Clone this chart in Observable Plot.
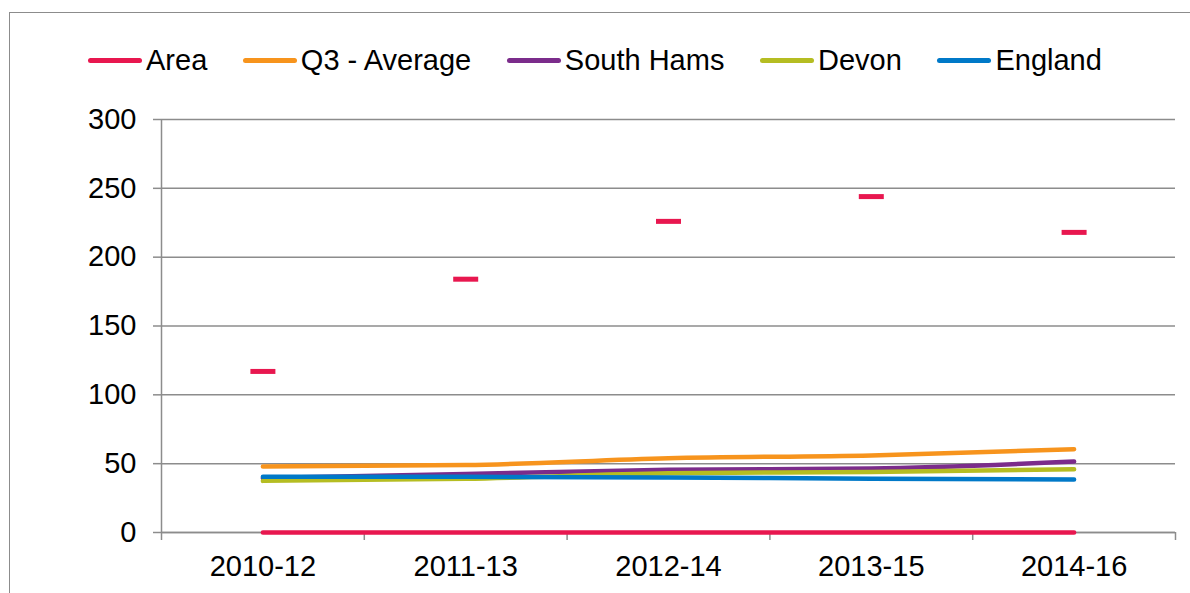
<!DOCTYPE html>
<html><head><meta charset="utf-8">
<script src="https://cdn.jsdelivr.net/npm/d3@7"></script>
<script src="https://cdn.jsdelivr.net/npm/@observablehq/plot@0.6"></script>
<style>
body{margin:0;background:#fff;width:1190px;height:593px;overflow:hidden;position:relative;font-family:"Liberation Sans",Arial,sans-serif;}
#frame{position:absolute;left:9px;top:12px;width:1200px;height:620px;border:1.5px solid #8c8c8c;box-sizing:border-box;}
#chart{position:absolute;left:0;top:0;}
#legend{position:absolute;left:88px;top:44px;display:flex;align-items:center;font-size:29px;color:#000;white-space:nowrap;}
#legend .item{display:flex;align-items:center;margin-right:35.6px;}
#legend .sw{width:54px;height:5px;border-radius:3px;margin-right:4px;}
</style></head>
<body>
<div id="frame"></div>
<div id="chart"></div>
<div id="legend"></div>
<script>
const categories = ["2010-12","2011-13","2012-14","2013-15","2014-16"];
const areaValues = [117, 184, 226, 244, 218];
const areaBaseline = [0, 0, 0, 0, 0];
const q3Average = [48, 49, 54, 56, 60.5];
const southHams = [39.5, 42.5, 45.5, 46.5, 51.5];
const devon = [37.5, 39, 43, 44, 46];
const england = [40.5, 40.5, 40, 39, 38.5];
const yTicks = [0, 50, 100, 150, 200, 250, 300];

const seriesNames = ["Area","Q3 - Average","South Hams","Devon","England"];
const seriesColors = ["#e8174f","#f7941d","#7b2c8b","#b5bd22","#0079c8"];
const lineSeries = [areaBaseline, q3Average, southHams, devon, england];

const toRows = (vals) => vals.map((v, i) => ({i, v}));
const boundaries = d3.range(categories.length + 1).map(k => k - 0.5);
const grid = "#8c8c8c";

const dash = {draw(ctx){ ctx.rect(-12.5, -2.5, 25, 5); }};

const marks = [
  Plot.gridY(yTicks, {stroke: grid, strokeOpacity: 1, strokeWidth: 1.5}),
  Plot.ruleY([0], {stroke: grid, strokeWidth: 1.5}),
  Plot.axisY(yTicks, {tickSize: 8, tickFormat: () => "", stroke: grid, strokeWidth: 1.5, label: null}),
  Plot.axisY(yTicks, {tickSize: 0, tickPadding: 25, fill: "#000", label: null}),
  Plot.axisX(boundaries, {tickSize: 8, tickFormat: () => "", stroke: grid, strokeWidth: 1.5, label: null}),
  Plot.axisX(d3.range(categories.length), {tickSize: 0, tickPadding: 23, tickFormat: i => categories[i], fill: "#000", label: null}),
  Plot.ruleX([-0.5], {stroke: grid, strokeWidth: 1.5})
];
lineSeries.forEach((vals, k) => {
  marks.push(Plot.line(toRows(vals), {x: "i", y: "v", stroke: seriesColors[k], strokeWidth: 4.5, strokeLinecap: "round", strokeLinejoin: "round", curve: "monotone-x"}));
});
marks.push(Plot.dot(toRows(areaValues), {x: "i", y: "v", symbol: dash, fill: seriesColors[0], stroke: null, r: 5}));

const chart = Plot.plot({
  width: 1190, height: 593,
  marginTop: 119, marginBottom: 61, marginLeft: 161, marginRight: 15,
  x: {type: "linear", domain: [-0.5, categories.length - 0.5]},
  y: {domain: [0, 300]},
  style: {fontFamily: '"Liberation Sans", Arial, sans-serif', fontSize: "29px", color: "#000", background: "transparent", overflow: "visible"},
  marks
});
document.getElementById("chart").appendChild(chart);

const legend = document.getElementById("legend");
seriesNames.forEach((name, k) => {
  const it = document.createElement("div"); it.className = "item";
  const sw = document.createElement("div"); sw.className = "sw"; sw.style.background = seriesColors[k];
  const tx = document.createElement("span"); tx.textContent = name;
  it.appendChild(sw); it.appendChild(tx); legend.appendChild(it);
});
</script>
</body></html>
